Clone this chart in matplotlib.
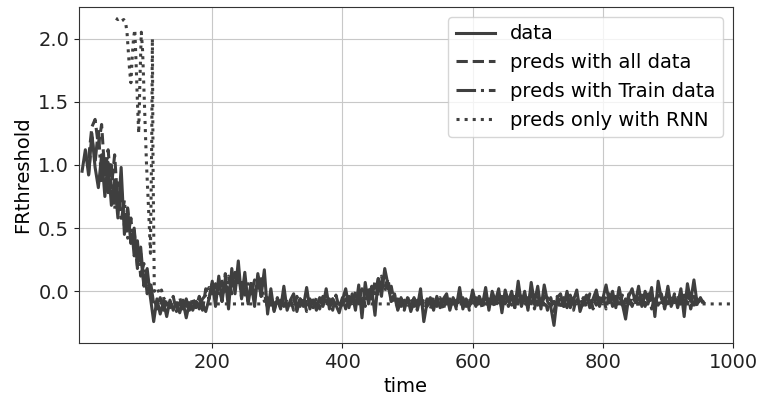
import numpy as np
import matplotlib

matplotlib.use("Agg")
import matplotlib.pyplot as plt


# observed series, one value every 5 time steps (t = 0 .. 955)
DATA_STEP = 5
data = [
    0.95, 1.12, 0.92, 1.25, 0.98, 0.82, 1.08, 0.75, 1.02, 0.68,
    0.88, 0.58, 0.98, 0.45, 0.65, 0.38, 0.50, 0.20, 0.35, 0.05,
    0.18, -0.05, -0.24, -0.06, -0.18, -0.08, -0.20, -0.07, -0.15, -0.09,
    -0.17, -0.08, -0.21, -0.09, -0.15, -0.08, -0.14, -0.10, -0.16, -0.06,
    0.08, -0.12, 0.12, -0.08, 0.10, -0.14, 0.18, -0.02, 0.24, -0.06,
    0.15, -0.10, 0.06, -0.12, 0.14, -0.04, 0.17, -0.18, 0.02, -0.16,
    -0.06, -0.14, 0.04, -0.15, -0.07, -0.02, -0.16, -0.06, -0.12, 0.03,
    -0.14, -0.07, -0.15, -0.05, -0.12, 0.02, -0.14, -0.06, -0.11, -0.17,
    -0.07, 0.02, -0.13, -0.02, -0.15, 0.05, -0.21, 0.07, -0.10, 0.02,
    -0.19, 0.10, -0.04, 0.18, 0.05, -0.08, -0.02, -0.15, -0.06, -0.13,
    -0.05, -0.16, -0.08, -0.13, 0.02, -0.24, -0.09, -0.05, -0.15, -0.04,
    -0.13, -0.06, -0.02, -0.15, -0.05, -0.12, 0.03, -0.14, -0.06, -0.12,
    0.01, -0.10, -0.04, -0.11, 0.03, -0.15, 0.00, -0.08, 0.02, -0.17,
    0.01, -0.08, 0.00, -0.13, 0.08, -0.10, 0.00, -0.15, 0.07, -0.09,
    0.04, -0.14, 0.05, -0.08, -0.12, -0.27, -0.05, -0.02, -0.12, 0.00,
    -0.13, -0.07, 0.01, -0.16, -0.08, -0.03, -0.13, -0.06, 0.01, -0.11,
    -0.06, 0.05, -0.09, 0.00, -0.13, 0.03, -0.10, -0.22, -0.04, 0.02,
    -0.09, 0.04, -0.12, 0.00, -0.09, 0.03, -0.20, 0.08, -0.06, -0.11,
    0.04, -0.12, -0.04, -0.10, 0.02, -0.20, 0.06, -0.08, 0.09, -0.10,
    -0.06, -0.09,
]

# model predictions, one value every 5 time steps (t = 10 .. 955)
PRED_START = 10
PRED_STEP = 5
preds_all = [
    1.05, 1.30, 1.36, 1.15, 1.32, 0.92, 1.12, 0.82, 1.08, 0.68,
    0.82, 0.52, 0.66, 0.38, 0.48, 0.18, 0.30, 0.04, 0.12, -0.04,
    -0.04, -0.14, -0.05, -0.15, -0.06, -0.13, -0.04, -0.16, -0.05, -0.14,
    -0.06, -0.15, -0.05, -0.13, -0.04, -0.15, 0.02, -0.06, 0.06, -0.04,
    0.04, -0.08, 0.14, -0.04, 0.10, 0.02, 0.16, -0.05, 0.08, -0.08,
    0.08, -0.06, 0.12, -0.04, -0.02, -0.13, -0.04, -0.15, -0.05, -0.14,
    -0.04, -0.13, -0.06, -0.15, -0.04, -0.12, -0.05, -0.16, -0.06, -0.13,
    -0.05, -0.14, -0.04, -0.12, -0.06, -0.15, -0.03, -0.13, -0.05, -0.14,
    -0.04, -0.12, 0.00, -0.10, 0.02, -0.12, 0.04, -0.06, 0.08, -0.04,
    0.12, 0.00, 0.10, -0.08, -0.03, -0.14, -0.05, -0.15, -0.04, -0.13,
    -0.05, -0.15, -0.04, -0.13, -0.06, -0.14, -0.04, -0.12, -0.05, -0.15,
    -0.04, -0.13, -0.06, -0.14, -0.03, -0.12, -0.05, -0.15, -0.04, -0.12,
    -0.03, -0.14, -0.02, -0.12, -0.05, -0.13, -0.02, -0.14, -0.04, -0.12,
    -0.03, -0.14, 0.03, -0.12, -0.04, -0.13, 0.02, -0.14, -0.03, -0.13,
    -0.04, -0.15, -0.05, -0.16, -0.04, -0.14, -0.05, -0.13, -0.03, -0.15,
    -0.04, -0.12, -0.05, -0.13, -0.02, -0.14, -0.04, -0.12, -0.03, -0.14,
    -0.02, -0.12, -0.04, -0.13, -0.03, -0.15, -0.02, -0.12, -0.04, -0.13,
    -0.03, -0.12, -0.02, -0.14, -0.04, -0.11, -0.02, -0.14, -0.03, -0.12,
    -0.02, -0.13, -0.03, -0.12, 0.01, -0.14, -0.04, -0.12, -0.05, -0.11,
]
preds_train = [
    0.92, 1.22, 1.02, 1.28, 0.85, 1.05, 0.78, 1.00, 0.65, 0.88,
    0.55, 0.72, 0.42, 0.58, 0.28, 0.40, 0.12, 0.22, -0.02, 0.08,
    -0.10, -0.08, -0.12, -0.07, -0.11, -0.09, -0.13, -0.08, -0.11, -0.07,
    -0.12, -0.08, -0.11, -0.07, -0.12, -0.06, -0.03, 0.03, -0.02, 0.06,
    -0.03, 0.08, 0.00, 0.12, -0.02, 0.15, 0.04, 0.10, -0.03, 0.06,
    -0.02, 0.09, 0.00, 0.10, -0.08, -0.05, -0.11, -0.06, -0.12, -0.07,
    -0.12, -0.06, -0.11, -0.07, -0.12, -0.06, -0.10, -0.08, -0.12, -0.07,
    -0.11, -0.06, -0.12, -0.07, -0.10, -0.06, -0.12, -0.07, -0.11, -0.06,
    -0.10, -0.04, -0.09, -0.02, -0.08, 0.00, -0.06, 0.04, -0.02, 0.10,
    0.04, 0.12, 0.02, 0.04, -0.10, -0.06, -0.12, -0.07, -0.11, -0.06,
    -0.12, -0.07, -0.11, -0.06, -0.12, -0.08, -0.10, -0.06, -0.12, -0.07,
    -0.10, -0.06, -0.11, -0.07, -0.10, -0.05, -0.12, -0.06, -0.11, -0.05,
    -0.10, -0.04, -0.11, -0.06, -0.10, -0.05, -0.11, -0.04, -0.10, -0.06,
    -0.11, -0.04, -0.09, -0.02, -0.11, -0.05, -0.10, -0.03, -0.11, -0.06,
    -0.11, -0.05, -0.12, -0.08, -0.10, -0.06, -0.12, -0.06, -0.11, -0.05,
    -0.10, -0.06, -0.11, -0.04, -0.10, -0.06, -0.11, -0.05, -0.10, -0.04,
    -0.09, -0.05, -0.10, -0.04, -0.11, -0.06, -0.10, -0.04, -0.09, -0.05,
    -0.10, -0.04, -0.11, -0.05, -0.09, -0.03, -0.11, -0.05, -0.10, -0.04,
    -0.09, -0.05, -0.10, -0.03, -0.09, -0.04, -0.11, -0.06, -0.10, -0.07,
]

# RNN-only predictions (irregular sampling)
rnn_t = [
    52, 55, 58, 61, 64, 67, 69, 71, 73, 75, 77, 79, 81, 83, 85, 87,
    89, 91, 93, 95, 97, 99, 101, 103, 105, 107, 108, 109, 111, 113,
    116, 119, 122, 125, 130, 140, 160, 200, 300, 400, 500, 600, 700,
    800, 900, 955, 1000,
]
rnn_v = [
    2.16, 2.15, 2.16, 2.14, 2.15, 2.12, 2.05, 1.90, 1.75, 1.65, 1.85,
    2.00, 2.07, 1.80, 1.50, 1.25, 1.70, 2.05, 1.90, 1.60, 1.30, 1.00,
    0.78, 0.55, 0.30, 1.20, 2.00, 1.00, 0.00, 0.03, 0.02, -0.02, 0.01,
    -0.05, -0.09, -0.10, -0.10, -0.10, -0.10, -0.10, -0.10, -0.10,
    -0.10, -0.10, -0.10, -0.10, -0.10,
]

LINE_COLOR = "#3f3f3f"
FONT_SIZE = 14


def main():
    t_data = np.arange(len(data)) * DATA_STEP
    t_pred = PRED_START + np.arange(len(preds_all)) * PRED_STEP

    fig = plt.figure(figsize=(7.58, 4.07), dpi=100)
    ax = fig.add_axes([0.104, 0.157, 0.863, 0.826])

    ax.plot(t_data, data, "-", color=LINE_COLOR, lw=2.2, label="data", zorder=3)
    ax.plot(t_pred, preds_all, "--", color=LINE_COLOR, lw=2.2, label="preds with all data", zorder=3)
    ax.plot(t_pred, preds_train, "-.", color=LINE_COLOR, lw=2.2, label="preds with Train data", zorder=3)
    # RNN drawn underneath so its flat tail hides behind the data band
    ax.plot(rnn_t, rnn_v, ":", color=LINE_COLOR, lw=2.2, label="preds only with RNN", zorder=2)

    ax.set_xlim(-5, 1000)
    ax.set_ylim(-0.41, 2.25)
    ax.set_xticks([200, 400, 600, 800, 1000])
    ax.set_yticks([0.0, 0.5, 1.0, 1.5, 2.0])
    ax.tick_params(labelsize=FONT_SIZE, colors="#222222")
    ax.set_xlabel("time", fontsize=FONT_SIZE)
    ax.set_ylabel("FRthreshold", fontsize=FONT_SIZE)
    ax.grid(True, color="#c8c8c8", lw=0.8)
    for spine in ax.spines.values():
        spine.set_color("#333333")
    ax.legend(loc="upper right", fontsize=FONT_SIZE)

    fig.savefig("out.png", dpi=100)
    plt.close(fig)


if __name__ == "__main__":
    main()
